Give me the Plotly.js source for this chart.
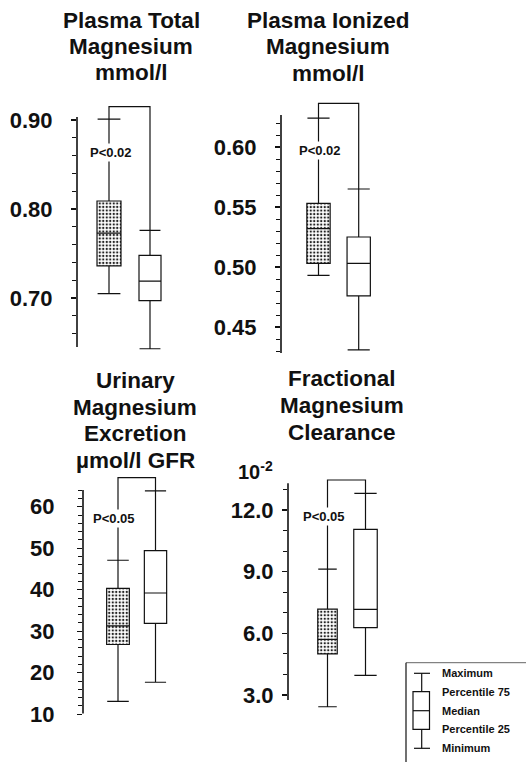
<!DOCTYPE html>
<html><head><meta charset="utf-8">
<script src="https://cdn.plot.ly/plotly-3.0.1.min.js"></script>
<style>html,body{margin:0;padding:0;background:#fff}#chart{width:526px;height:762px}</style>
</head><body><div id="chart"></div>
<script>
// ---------------- data ----------------
const groups = [1, 2]; // group 1 = dotted box, group 2 = open box

const titleTotal = ['Plasma Total', 'Magnesium', 'mmol/l'];
const titleIonized = ['Plasma Ionized', 'Magnesium', 'mmol/l'];
const titleUrine = ['Urinary', 'Magnesium', 'Excretion', 'µmol/l GFR'];
const titleFrac = ['Fractional', 'Magnesium', 'Clearance'];
const pLabels = ['P<0.02', 'P<0.02', 'P<0.05', 'P<0.05'];
const fracUnit = '10<sup>-2</sup>';

const totalMin = [0.705, 0.643];
const totalQ1 = [0.736, 0.697];
const totalMedian = [0.773, 0.719];
const totalQ3 = [0.809, 0.748];
const totalMax = [0.901, 0.776];

const ionMin = [0.493, 0.431];
const ionQ1 = [0.503, 0.476];
const ionMedian = [0.532, 0.503];
const ionQ3 = [0.553, 0.525];
const ionMax = [0.624, 0.565];

const urineMin = [13.1, 17.7];
const urineQ1 = [26.8, 31.9];
const urineMedian = [31.3, 39.2];
const urineQ3 = [40.3, 49.4];
const urineMax = [47.1, 63.8];

const fracMin = [2.43, 3.96];
const fracQ1 = [5.0, 6.28];
const fracMedian = [5.71, 7.17];
const fracQ3 = [7.18, 11.06];
const fracMax = [9.12, 12.81];

const tickTotal = [0.70, 0.80, 0.90];
const tickIon = [0.45, 0.50, 0.55, 0.60];
const tickUrine = [10, 20, 30, 40, 50, 60];
const tickFrac = [3.0, 6.0, 9.0, 12.0];

const legendLabels = ['Maximum', 'Percentile 75', 'Median', 'Percentile 25', 'Minimum'];

// ---------------- layout config (pixels) ----------------
const W = 526, H = 762;
const FONT = 'Liberation Sans, Arial, Helvetica, sans-serif';
const INK = '#111';
const px2x = p => p / W;
const px2y = p => 1 - p / H;

const panels = [
  {min: totalMin, q1: totalQ1, med: totalMedian, q3: totalQ3, max: totalMax,
   ticks: tickTotal, fmt: '.2f', minorStep: 0.02, standoff: 14,
   cal: {v: 0.80, px: 209, ppu: 890}, axisTopPx: 117, axisBottomPx: 347, bracketPx: 106.7,
   axisPx: 77, c1: 109, c2: 150, rightPx: 185, boxPx: [24, 22],
   title: titleTotal, titleX: 131, titleY: [20, 47, 73], p: pLabels[0], pX: 111, pY: 153},
  {min: ionMin, q1: ionQ1, med: ionMedian, q3: ionQ3, max: ionMax,
   ticks: tickIon, fmt: '.2f', minorStep: 0.01, standoff: 14,
   cal: {v: 0.60, px: 147, ppu: 1200}, axisTopPx: 115, axisBottomPx: 353, bracketPx: 103.3,
   axisPx: 281, c1: 318.5, c2: 358.7, rightPx: 392, boxPx: [23.3, 23.3],
   title: titleIonized, titleX: 328, titleY: [20, 46.7, 73.3], p: pLabels[1], pX: 320, pY: 150},
  {min: urineMin, q1: urineQ1, med: urineMedian, q3: urineQ3, max: urineMax,
   ticks: tickUrine, fmt: 'd', minorStep: 2, standoff: 18,
   cal: {v: 60, px: 506.7, ppu: 4.15}, axisTopPx: 490, axisBottomPx: 713.5, bracketPx: 477.7,
   axisPx: 83, c1: 118, c2: 155.5, rightPx: 185, boxPx: [22.7, 22.3],
   title: titleUrine, titleX: 135, titleY: [380, 407, 434, 460], p: pLabels[2], pX: 114, pY: 518},
  {min: fracMin, q1: fracQ1, med: fracMedian, q3: fracQ3, max: fracMax,
   ticks: tickFrac, fmt: '.1f', minorStep: 1, standoff: 4,
   cal: {v: 12, px: 510, ppu: 20.56}, axisTopPx: 483.3, axisBottomPx: 700, bracketPx: 480,
   axisPx: 288, c1: 327.5, c2: 365.5, rightPx: 395, boxPx: [19.5, 23.5],
   title: titleFrac, titleX: 342, titleY: [378, 405, 432], p: pLabels[3], pX: 324, pY: 516.7}
];

const traces = [];
const shapes = [];
const annotations = [];
const layout = {
  width: W, height: H,
  margin: {l: 0, r: 0, t: 0, b: 0, pad: 0},
  paper_bgcolor: '#fff', plot_bgcolor: 'rgba(0,0,0,0)',
  showlegend: false, hovermode: false, barmode: 'overlay',
  font: {family: FONT, color: INK},
  shapes: shapes, annotations: annotations
};

panels.forEach((P, k) => {
  const n = k === 0 ? '' : String(k + 1);
  const xr = 'x' + n, yr = 'y' + n;
  const val = px => P.cal.v + (P.cal.px - px) / P.cal.ppu;   // pixel -> value
  const pix = v => P.cal.px + (P.cal.v - v) * P.cal.ppu;     // value -> pixel
  const unit = P.c2 - P.c1;
  const xval = px => 1 + (px - P.c1) / unit;

  const topPx = P.bracketPx - 3;
  const botPx = Math.max(P.axisBottomPx, pix(Math.min(...P.min))) + 4;

  layout['xaxis' + n] = {
    domain: [px2x(P.axisPx), px2x(P.rightPx)], range: [xval(P.axisPx), xval(P.rightPx)],
    anchor: yr, visible: false, fixedrange: true
  };
  const axTop = val(P.axisTopPx), axBot = val(P.axisBottomPx);
  const minor = [];
  const s = P.minorStep;
  for (let i = Math.ceil(axBot / s - 1e-6); i * s <= axTop + 1e-9; i++) minor.push(+(i * s).toFixed(4));
  layout['yaxis' + n] = {
    domain: [px2y(botPx), px2y(topPx)], range: [val(botPx), val(topPx)],
    anchor: xr, showline: false, showgrid: false, zeroline: false, fixedrange: true,
    tickmode: 'array', tickvals: P.ticks, tickformat: P.fmt,
    ticks: 'outside', ticklen: 5, tickwidth: 1.2, tickcolor: INK,
    ticklabelstandoff: P.standoff,
    tickfont: {family: FONT, size: 22, color: INK, weight: 'bold'},
    minor: {tickvals: minor, ticks: 'outside', ticklen: 4, tickwidth: 1, tickcolor: INK, showgrid: false}
  };

  // axis line (only over the drawn extent)
  shapes.push({type: 'line', xref: xr + ' domain', yref: yr, x0: 0, x1: 0, y0: axBot, y1: axTop,
    line: {color: INK, width: 1.6}});

  groups.forEach((g, i) => {
    const w = P.boxPx[i] / unit;
    if (i === 0) {
      traces.push({type: 'bar', xaxis: xr, yaxis: yr, x: [g], base: [P.q1[i]], y: [P.q3[i] - P.q1[i]],
        width: w, hoverinfo: 'skip',
        marker: {color: '#fff', line: {width: 0},
          pattern: {shape: '.', size: 3.5, solidity: 0.35, fgcolor: '#222', bgcolor: '#fff'}}});
    }
    traces.push({type: 'box', xaxis: xr, yaxis: yr, x: [g],
      q1: [P.q1[i]], median: [P.med[i]], q3: [P.q3[i]],
      lowerfence: [P.min[i]], upperfence: [P.max[i]],
      width: w, whiskerwidth: 0.95, boxpoints: false, hoverinfo: 'skip',
      fillcolor: 'rgba(0,0,0,0)', line: {color: INK, width: 1.2}});
  });

  // significance bracket
  const top = val(P.bracketPx);
  shapes.push({type: 'path', xref: xr, yref: yr,
    path: `M ${groups[0]},${P.max[0]} L ${groups[0]},${top} L ${groups[1]},${top} L ${groups[1]},${P.max[1]}`,
    line: {color: INK, width: 1.2}});

  annotations.push({xref: 'paper', yref: 'paper', x: px2x(P.pX), y: px2y(P.pY), text: P.p,
    showarrow: false, xanchor: 'center', yanchor: 'middle', bgcolor: '#fff', borderpad: 1,
    font: {family: FONT, size: 13, color: INK, weight: 'bold'}});

  P.title.forEach((t, j) => annotations.push({xref: 'paper', yref: 'paper', x: px2x(P.titleX), y: px2y(P.titleY[j]),
    text: t, showarrow: false, xanchor: 'center', yanchor: 'middle',
    font: {family: FONT, size: 22.5, color: INK, weight: 'bold'}}));
});

// 10^-2 unit label for the clearance axis
annotations.push({xref: 'paper', yref: 'paper', x: px2x(255), y: px2y(470), text: fracUnit,
  showarrow: false, xanchor: 'center', yanchor: 'middle',
  font: {family: FONT, size: 20, color: INK, weight: 'bold'}});

// ---------------- key (legend) ----------------
const L = (x0, y0, x1, y1, c, w) => shapes.push({type: 'line', xref: 'paper', yref: 'paper',
  x0: px2x(x0), y0: px2y(y0), x1: px2x(x1), y1: px2y(y1), line: {color: c || INK, width: w || 1.2}});
L(406, 662.7, 526, 662.7, '#666', 1);
L(406, 662.7, 406, 762, INK, 1.2);
const gx = 421.7, gL = 413, gR = 429.5;
const gy = [673.3, 691.7, 710.7, 729.3, 748.3];
L(414, gy[0], 430, gy[0]);
L(gx, gy[0], gx, gy[1]);
shapes.push({type: 'rect', xref: 'paper', yref: 'paper', x0: px2x(gL), x1: px2x(gR), y0: px2y(gy[3]), y1: px2y(gy[1]),
  line: {color: INK, width: 1.2}, fillcolor: 'rgba(0,0,0,0)'});
L(gL, gy[2], gR, gy[2]);
L(gx, gy[3], gx, gy[4]);
L(414, gy[4], 430, gy[4]);
legendLabels.forEach((t, j) => annotations.push({xref: 'paper', yref: 'paper', x: px2x(440), y: px2y(gy[j]),
  text: t, showarrow: false, xanchor: 'left', yanchor: 'middle',
  font: {family: FONT, size: 11, color: INK, weight: 'bold'}}));

Plotly.newPlot('chart', traces, layout, {displayModeBar: false, staticPlot: true});
</script>
</body></html>
